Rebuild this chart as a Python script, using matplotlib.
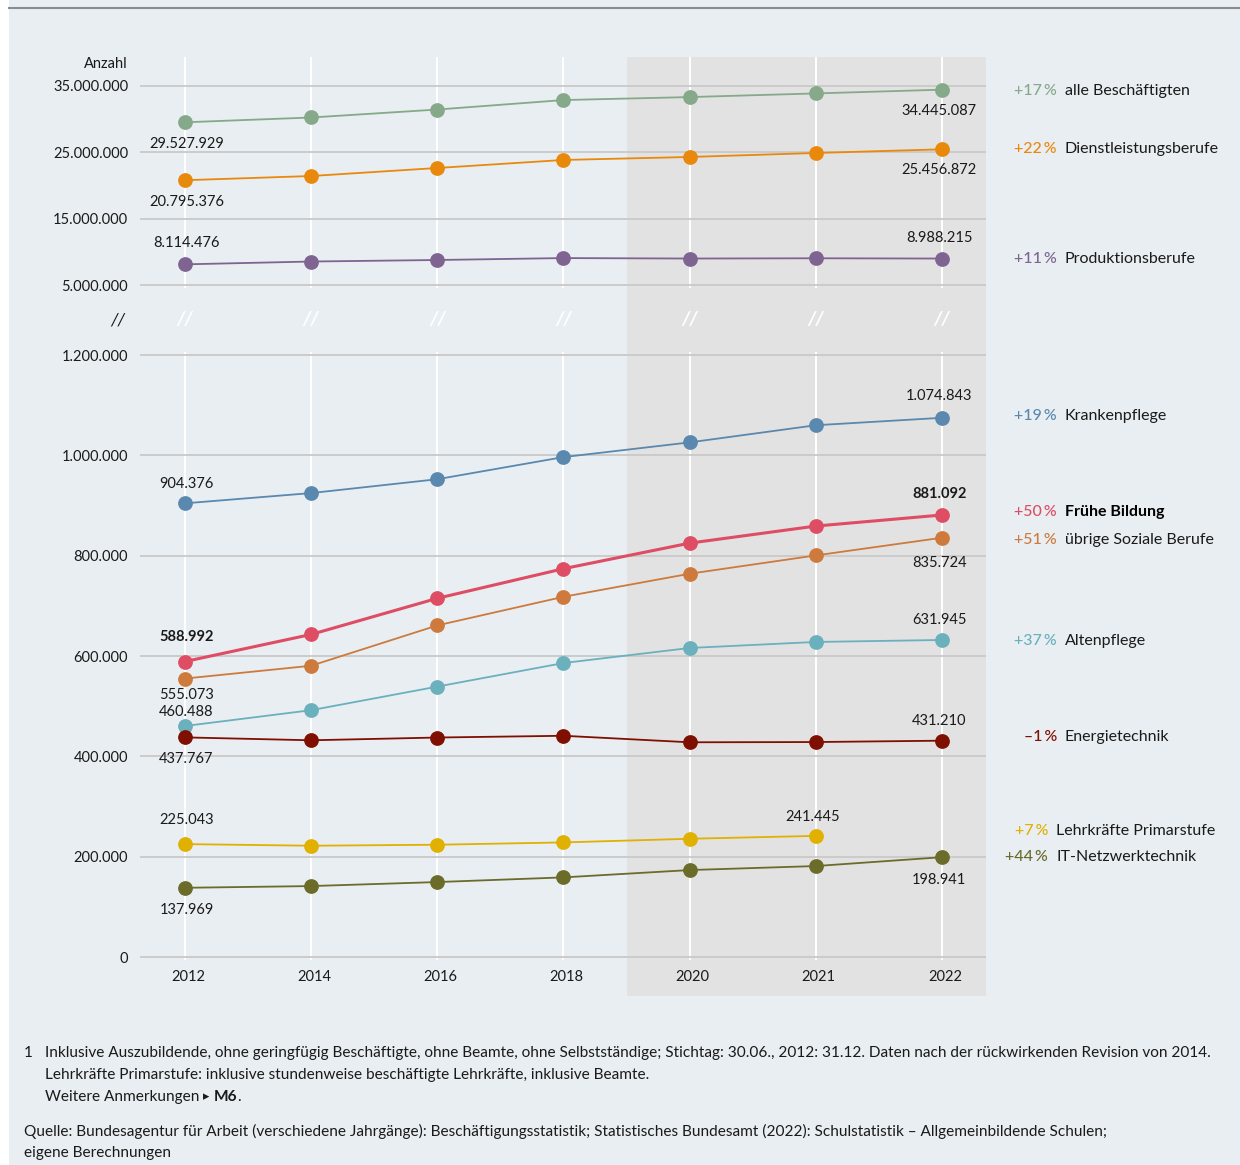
import matplotlib
matplotlib.use('Agg')
import matplotlib.pyplot as plt
import matplotlib.transforms as mtransforms
from matplotlib.patches import Rectangle
from matplotlib.lines import Line2D

# ---------------- data ----------------
years = ['2012', '2014', '2016', '2018', '2020', '2021', '2022']

alle_beschaeftigten = [29527929, 30250000, 31450000, 32880000, 33330000, 33880000, 34445087]
dienstleistungsberufe = [20795376, 21430000, 22640000, 23850000, 24300000, 24900000, 25456872]
produktionsberufe = [8114476, 8540000, 8770000, 9060000, 8990000, 9030000, 8988215]

krankenpflege = [904376, 924800, 952400, 996500, 1025800, 1060000, 1074843]
fruehe_bildung = [588992, 643000, 715000, 774000, 825000, 859000, 881092]
uebrige_soziale = [555073, 580600, 661000, 718000, 764000, 800500, 835724]
altenpflege = [460488, 492000, 539000, 586000, 616000, 628000, 631945]
energietechnik = [437767, 432000, 437500, 441000, 428000, 428500, 431210]
lehrkraefte = [225043, 221800, 223800, 228400, 235700, 241445]  # no value for 2022
it_netzwerk = [137969, 141400, 149400, 158700, 173300, 181300, 198941]

top_ticks = [5000000, 15000000, 25000000, 35000000]
bot_ticks = [0, 200000, 400000, 600000, 800000, 1000000, 1200000]

# ---------------- style ----------------
W, H = 1240, 1165
BG = '#e8eef2'
SHADE = '#e2e2e2'
GRID = '#c9c9c9'
TXT = '#1a1a1a'
FONT = ['Lato', 'DejaVu Sans']
plt.rcParams['font.family'] = FONT
PX = 0.72  # points per pixel at dpi 100

# name, values, colour, linewidth, bold, label-offsets (px, + = down) first/last, legend nudge px, legend x shift px
top_series = [
    ('alle Beschäftigten', alle_beschaeftigten, '#86a98a', 1.3, False, 22, 21, 1, 0),
    ('Dienstleistungsberufe', dienstleistungsberufe, '#e8890c', 1.3, False, 22, 21, 0, 0),
    ('Produktionsberufe', produktionsberufe, '#7f6491', 1.3, False, -21, -21, 0, 0),
]
bot_series = [
    ('Krankenpflege', krankenpflege, '#5a88ae', 1.3, False, -19, -22, -2, 0),
    ('Frühe Bildung', fruehe_bildung, '#de4d63', 2.2, True, -25, -21, -3, 0),
    ('übrige Soziale Berufe', uebrige_soziale, '#cd7a3c', 1.3, False, 16, 25, 2, 0),
    ('Altenpflege', altenpflege, '#6ab0bd', 1.3, False, -14, -20, 1, 0),
    ('Energietechnik', energietechnik, '#7f0f00', 1.3, False, 22, -20, -4, 0),
    ('Lehrkräfte Primarstufe', lehrkraefte, '#e0b100', 1.3, False, -24, -19, -5, -9),
    ('IT-Netzwerktechnik', it_netzwerk, '#6b6b2a', 1.3, False, 22, 23, 0, -9),
]


def fmt(v):
    return f'{int(v):,}'.replace(',', '.')


def box(l, t, r, b):
    return [l / W, 1 - b / H, (r - l) / W, (b - t) / H]


fig = plt.figure(figsize=(W / 100, H / 100), dpi=100)
fig.patch.set_facecolor('white')
fig.add_artist(Rectangle((9 / W, 0), 1 - 9 / W, 1, transform=fig.transFigure,
                         facecolor=BG, edgecolor='none', zorder=-10))
fig.add_artist(Line2D([9 / W, 1], [1 - 8 / H] * 2, transform=fig.transFigure,
                      color='#8c8c8c', lw=1.5))

XL = (-0.357, 6.35)
x = list(range(len(years)))

bg = fig.add_axes(box(140, 57, 986, 996))
bg.set_xlim(XL)
bg.set_ylim(0, 1)
bg.axis('off')
bg.axvspan(3.5, XL[1], color=SHADE, lw=0)

ax_top = fig.add_axes(box(140, 57, 986, 288), facecolor='none')
ax_bot = fig.add_axes(box(140, 352, 986, 960), facecolor='none')
ax_top.set_ylim(4.548e6, 39.37e6)
ax_bot.set_ylim(-5980, 1.206e6)

for ax, ticks in ((ax_top, top_ticks), (ax_bot, bot_ticks)):
    ax.set_xlim(XL)
    ax.set_xticks(x)
    ax.set_yticks(ticks)
    ax.set_yticklabels([fmt(t) for t in ticks])
    for s in ax.spines.values():
        s.set_visible(False)
    ax.set_axisbelow(True)
    ax.grid(axis='y', color=GRID, lw=1.3)
    ax.grid(axis='x', color='white', lw=1.4)
    ax.tick_params(length=0, labelsize=10.5, labelcolor=TXT, pad=8.6)

ax_top.set_xticklabels([])
ax_bot.set_xticklabels(years)
ax_bot.tick_params(axis='x', pad=7)
shift = mtransforms.ScaledTranslation(3 / 100, 0, fig.dpi_scale_trans)
for lab in ax_bot.get_xticklabels():
    lab.set_transform(lab.get_transform() + shift)


def draw(ax, series):
    for name, vals, col, lw, bold, off0, off1, nud, xs in series:
        xx = x[:len(vals)]
        ax.plot(xx, vals, color=col, lw=lw, marker='o', ms=9.6, zorder=3, clip_on=False)
        w = 'bold' if bold else 'normal'
        ax.annotate(fmt(vals[0]), (xx[0], vals[0]), xytext=(1, -off0 * PX), textcoords='offset points',
                    ha='center', va='center', fontsize=10.5, color=TXT, fontweight=w, annotation_clip=False)
        ax.annotate(fmt(vals[-1]), (xx[-1], vals[-1]), xytext=(-2, -off1 * PX), textcoords='offset points',
                    ha='center', va='center', fontsize=10.5, color=TXT, fontweight=w, annotation_clip=False)
        pct = round((vals[-1] / vals[0] - 1) * 100)
        sign = '+' if pct >= 0 else '\u2013'
        ax.annotate(f'{sign}{abs(pct)}\u2009%', xy=((1057 + xs) / W, vals[-1]),
                    xycoords=('figure fraction', 'data'), xytext=(0, -nud * PX), textcoords='offset points',
                    ha='right', va='center', fontsize=11.5, color=col, fontweight='medium',
                    annotation_clip=False)
        ax.annotate(name, xy=((1065 + xs) / W, vals[-1]),
                    xycoords=('figure fraction', 'data'), xytext=(0, -nud * PX), textcoords='offset points',
                    ha='left', va='center', fontsize=11.5, color='black' if bold else TXT, fontweight=w,
                    annotation_clip=False)


draw(ax_top, top_series)
draw(ax_bot, bot_series)

# axis break marks
for i in x:
    ax_bot.text(i, 1.27e6, '//', color='white', ha='center', va='center', fontsize=14,
                fontstyle='italic', fontweight='bold', clip_on=False)
fig.text(118 / W, 1 - 320 / H, '//', color=TXT, ha='center', va='center', fontsize=13, fontstyle='italic')
fig.text(128 / W, 1 - 64 / H, 'Anzahl', color=TXT, ha='right', va='center', fontsize=10.5)

# footnotes
FS = 11.1
fig.text(24 / W, 1 - 1053 / H, '1', fontsize=FS, color=TXT, va='center')
fig.text(45 / W, 1 - 1053 / H,
         'Inklusive Auszubildende, ohne geringfügig Beschäftigte, ohne Beamte, ohne Selbstständige; '
         'Stichtag: 30.06., 2012: 31.12. Daten nach der rückwirkenden Revision von 2014.',
         fontsize=FS, color=TXT, va='center')
fig.text(45 / W, 1 - 1075 / H,
         'Lehrkräfte Primarstufe: inklusive stundenweise beschäftigte Lehrkräfte, inklusive Beamte.',
         fontsize=FS, color=TXT, va='center')
renderer = fig.canvas.get_renderer()
t1 = fig.text(45 / W, 1 - 1097 / H, 'Weitere Anmerkungen ', fontsize=FS, color=TXT, va='center')
bb = t1.get_window_extent(renderer)
t2 = fig.text(bb.x1 / W, 1 - 1097 / H, '\u25b8 ', fontsize=FS - 2, color=TXT, va='center',
              family=['DejaVu Sans'])
bb = t2.get_window_extent(renderer)
t3 = fig.text(bb.x1 / W, 1 - 1097 / H, 'M6', fontsize=FS, color=TXT, va='center', fontweight='bold')
bb = t3.get_window_extent(renderer)
fig.text(bb.x1 / W, 1 - 1097 / H, '.', fontsize=FS, color=TXT, va='center')
fig.text(24 / W, 1 - 1131 / H,
         'Quelle: Bundesagentur für Arbeit (verschiedene Jahrgänge): Beschäftigungsstatistik; '
         'Statistisches Bundesamt (2022): Schulstatistik \u2013 Allgemeinbildende Schulen;',
         fontsize=FS, color=TXT, va='center')
fig.text(24 / W, 1 - 1153 / H, 'eigene Berechnungen', fontsize=FS, color=TXT, va='center')

fig.savefig('out.png', dpi=100, facecolor=fig.get_facecolor())
